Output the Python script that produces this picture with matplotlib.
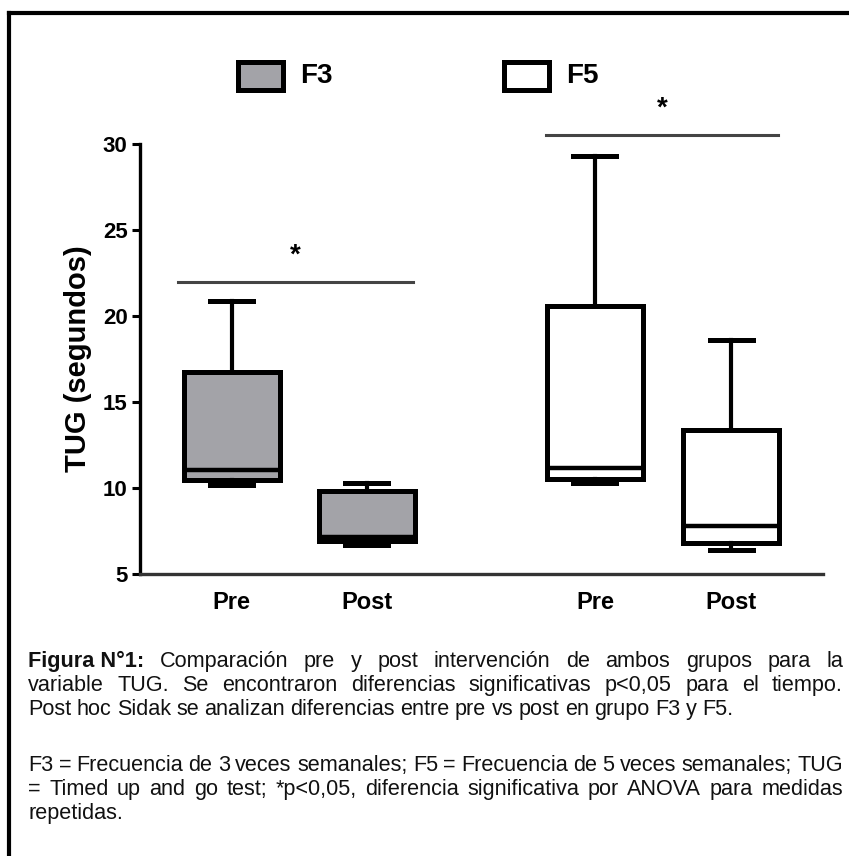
import matplotlib
matplotlib.use('Agg')
import matplotlib.pyplot as plt
from matplotlib.patches import Rectangle
from matplotlib.lines import Line2D

# datos
grupos = ['F3', 'F3', 'F5', 'F5']
momentos = ['Pre', 'Post', 'Pre', 'Post']
posiciones = [0, 1, 2.69, 3.70]
minimo = [10.2, 6.7, 10.3, 6.4]
q1 = [10.45, 6.9, 10.5, 6.8]
mediana = [11.05, 7.15, 11.15, 7.8]
q3 = [16.75, 9.8, 20.6, 13.4]
maximo = [20.9, 10.3, 29.3, 18.6]
colores = {'F3': '#a3a3a8', 'F5': 'white'}

# lineas de significancia: (x inicio, x fin, altura)
sig_f3 = (-0.4, 1.34, 21.95)
sig_f5 = (2.33, 4.05, 30.5)

fuente = 'Liberation Sans'

fig = plt.figure(figsize=(8.49, 8.56), dpi=100)
W, H = 849, 856

# marco de la figura
fig.add_artist(Line2D([9 / W, 9 / W], [0, 1 - 13 / H], color='black', lw=3.0, transform=fig.transFigure))
fig.add_artist(Line2D([9 / W, 1], [1 - 13 / H, 1 - 13 / H], color='black', lw=3.0, transform=fig.transFigure))

ax = fig.add_axes([140 / W, 1 - 574 / H, (823 - 140) / W, (574 - 144) / H])

stats = []
for i in range(len(posiciones)):
    stats.append({'med': mediana[i], 'q1': q1[i], 'q3': q3[i],
                  'whislo': minimo[i], 'whishi': maximo[i], 'fliers': []})

bp = ax.bxp(stats, positions=posiciones, widths=0.71, capwidths=0.32,
            patch_artist=True, showfliers=False, manage_ticks=False,
            boxprops=dict(linewidth=3.6, edgecolor='black'),
            whiskerprops=dict(linewidth=3.0, color='black'),
            capprops=dict(linewidth=3.6, color='black'),
            medianprops=dict(linewidth=3.2, color='black', solid_capstyle='butt'))
for caja, g in zip(bp['boxes'], grupos):
    caja.set_facecolor(colores[g])

ax.set_xlim(-0.68, 4.38)
ax.set_ylim(5, 30)
ax.set_yticks([5, 10, 15, 20, 25, 30])
ax.set_xticks(posiciones)
ax.set_xticklabels(momentos, fontfamily=fuente, fontweight='bold', fontsize=17)
ax.tick_params(axis='x', length=0, pad=12)
ax.tick_params(axis='y', length=6, width=2.2, pad=3)
for lab in ax.get_yticklabels():
    lab.set_fontfamily(fuente)
    lab.set_fontweight('bold')
    lab.set_fontsize(16)
ax.set_ylabel('TUG (segundos)', fontfamily=fuente, fontweight='bold', fontsize=21, labelpad=8)

for s in ['top', 'right']:
    ax.spines[s].set_visible(False)
ax.spines['left'].set_linewidth(2.4)
ax.spines['bottom'].set_linewidth(2.4)
ax.spines['bottom'].set_color('#333333')

for x0, x1, y in [sig_f3, sig_f5]:
    ax.plot([x0, x1], [y, y], color='#444444', lw=2.2, clip_on=False)
    ax.text((x0 + x1) / 2, y + 1.55, '*', ha='center', va='center',
            fontfamily=fuente, fontweight='bold', fontsize=20, clip_on=False)

# leyenda
for x0, g in [(238, 'F3'), (504, 'F5')]:
    fig.add_artist(Rectangle((x0 / W, 1 - 90 / H), 45 / W, 28 / H, transform=fig.transFigure,
                             facecolor=colores[g], edgecolor='black', lw=3.6))
    fig.text((x0 + 62) / W, 1 - 76 / H, g, ha='left', va='center',
             fontfamily=fuente, fontweight='bold', fontsize=20)

# texto de la figura, justificado (y = linea base en pixeles)
lineas = [
    ([('Figura N°1:', True)] + [(w, False) for w in 'Comparación pre y post intervención de ambos grupos para la'.split()], True, 667),
    ([(w, False) for w in 'variable TUG. Se encontraron diferencias significativas p<0,05 para el tiempo.'.split()], True, 691),
    ([(w, False) for w in 'Post hoc Sidak se analizan diferencias entre pre vs post en grupo F3 y F5.'.split()], False, 715),
    ([(w, False) for w in 'F3 = Frecuencia de 3 veces semanales; F5 = Frecuencia de 5 veces semanales; TUG'.split()], True, 771),
    ([(w, False) for w in '= Timed up and go test; *p<0,05, diferencia significativa por ANOVA para medidas'.split()], True, 795),
    ([(w, False) for w in 'repetidas.'.split()], False, 819),
]
x_izq, x_der = 28, 843
tam = 15.6
renderer = fig.canvas.get_renderer()
for palabras, justificar, y in lineas:
    textos = []
    for w, b in palabras:
        t = fig.text(0, 1 - y / H, w, ha='left', va='baseline', fontsize=tam,
                     fontfamily=fuente, fontweight='bold' if b else 'normal', color='#111111')
        textos.append(t)
    anchos = [t.get_window_extent(renderer).width for t in textos]
    esp = tam * 100 / 72 * 0.25
    if justificar and len(textos) > 1:
        esp = max((x_der - x_izq - sum(anchos)) / (len(textos) - 1), 4)
    x = x_izq
    for t, a in zip(textos, anchos):
        t.set_x(x / W)
        x += a + esp

fig.savefig('out.png', dpi=100)
